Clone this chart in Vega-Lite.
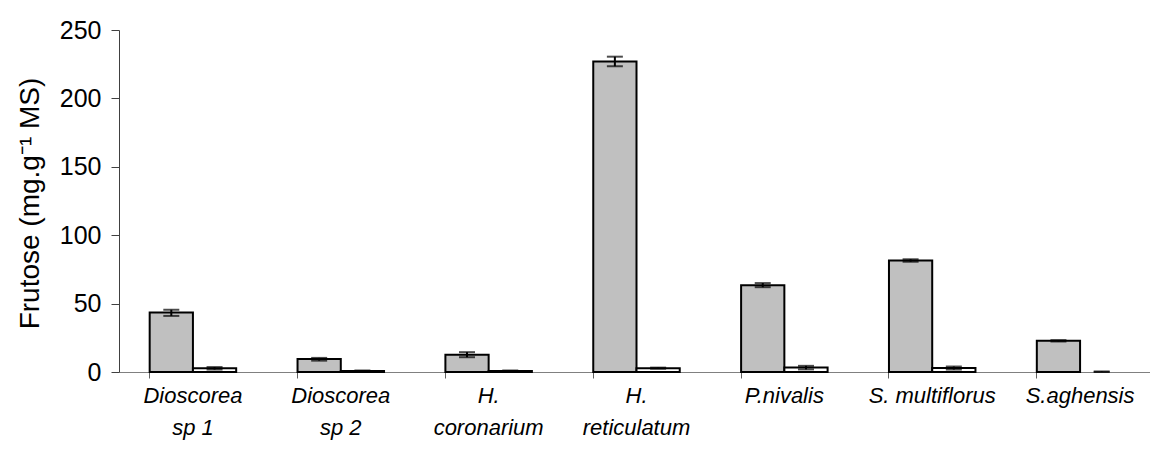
{
  "$schema": "https://vega.github.io/schema/vega-lite/v6.json",
  "autosize": "none",
  "padding": {"left": 119, "top": 30, "right": 0, "bottom": 79},
  "width": 1035,
  "height": 342,
  "background": "white",
  "config": {
    "view": {"stroke": null},
    "font": "Liberation Sans"
  },
  "data": {
    "values": [
      {"cat": "Dioscorea sp 1", "serie": "A", "value": 43.5, "lo": 41.0, "hi": 45.5},
      {"cat": "Dioscorea sp 1", "serie": "B", "value": 2.8, "lo": 1.8, "hi": 3.6},
      {"cat": "Dioscorea sp 2", "serie": "A", "value": 9.5, "lo": 8.3, "hi": 10.3},
      {"cat": "Dioscorea sp 2", "serie": "B", "value": 0.8, "lo": 0.5, "hi": 1.1},
      {"cat": "H. coronarium", "serie": "A", "value": 12.6, "lo": 10.8, "hi": 14.5},
      {"cat": "H. coronarium", "serie": "B", "value": 0.8, "lo": 0.5, "hi": 1.1},
      {"cat": "H. reticulatum", "serie": "A", "value": 227.0, "lo": 223.5, "hi": 230.5},
      {"cat": "H. reticulatum", "serie": "B", "value": 2.8, "lo": 2.4, "hi": 3.2},
      {"cat": "P.nivalis", "serie": "A", "value": 63.5, "lo": 62.0, "hi": 65.0},
      {"cat": "P.nivalis", "serie": "B", "value": 3.2, "lo": 1.9, "hi": 4.5},
      {"cat": "S. multiflorus", "serie": "A", "value": 81.5, "lo": 80.6, "hi": 82.4},
      {"cat": "S. multiflorus", "serie": "B", "value": 3.0, "lo": 1.8, "hi": 4.0},
      {"cat": "S.aghensis", "serie": "A", "value": 22.8, "lo": 22.3, "hi": 23.3},
      {"cat": "S.aghensis", "serie": "B", "value": 0.0, "lo": 0.0, "hi": 0.4}
    ]
  },
  "encoding": {
    "x": {
      "field": "cat",
      "type": "nominal",
      "sort": null,
      "scale": {"paddingInner": 0.415, "paddingOuter": 0.2075},
      "axis": {
        "title": null,
        "labelAngle": 0,
        "bandPosition": 0,
        "labelExpr": "(indexof(datum.label, ' ') > 0 && datum.label != 'S. multiflorus') ? [substring(datum.label, 0, indexof(datum.label, ' ')), substring(datum.label, indexof(datum.label, ' ') + 1)] : datum.label",
        "labelFont": "Liberation Sans",
        "labelFontStyle": "italic",
        "labelFontSize": 22,
        "labelColor": "black",
        "labelLineHeight": 32,
        "labelBaseline": "top",
        "labelPadding": 7,
        "labelOverlap": false,
        "labelBound": false,
        "labelFlush": false,
        "tickSize": 6,
        "tickColor": "#606060",
        "domainColor": "#808080",
        "domainWidth": 1,
        "grid": false
      }
    },
    "xOffset": {"field": "serie", "type": "nominal", "sort": ["A", "B"]}
  },
  "layer": [
    {
      "mark": {"type": "bar", "stroke": "black"},
      "encoding": {
        "y": {
          "field": "value",
          "type": "quantitative",
          "scale": {"domain": [0, 250], "nice": false},
          "axis": {
            "title": "Frutose (mg.g\u207B\u00B9 MS)",
            "titleFont": "Liberation Sans",
            "titleFontSize": 28,
            "titleFontWeight": "normal",
            "titleColor": "black",
            "titleBaseline": "middle",
            "titleX": -89,
            "titleY": 173,
            "values": [0, 50, 100, 150, 200, 250],
            "labelFont": "Liberation Sans",
            "labelFontSize": 25,
            "labelColor": "black",
            "labelPadding": 10,
            "tickSize": 8,
            "tickColor": "#404040",
            "domainColor": "#404040",
            "grid": false
          }
        },
        "fill": {
          "field": "serie",
          "type": "nominal",
          "scale": {"domain": ["A", "B"], "range": ["#C0C0C0", "#FFFFFF"]},
          "legend": null
        },
        "strokeWidth": {"condition": {"test": "datum.value == 0", "value": 0}, "value": 2}
      }
    },
    {
      "mark": {"type": "rule", "color": "black", "strokeWidth": 2},
      "encoding": {
        "y": {"field": "lo", "type": "quantitative"},
        "y2": {"field": "hi"}
      }
    },
    {
      "mark": {"type": "tick", "color": "black", "thickness": 2, "size": 16},
      "encoding": {
        "y": {"field": "hi", "type": "quantitative"}
      }
    },
    {
      "mark": {"type": "tick", "color": "black", "thickness": 2, "size": 16},
      "encoding": {
        "y": {"field": "lo", "type": "quantitative"}
      }
    }
  ]
}
